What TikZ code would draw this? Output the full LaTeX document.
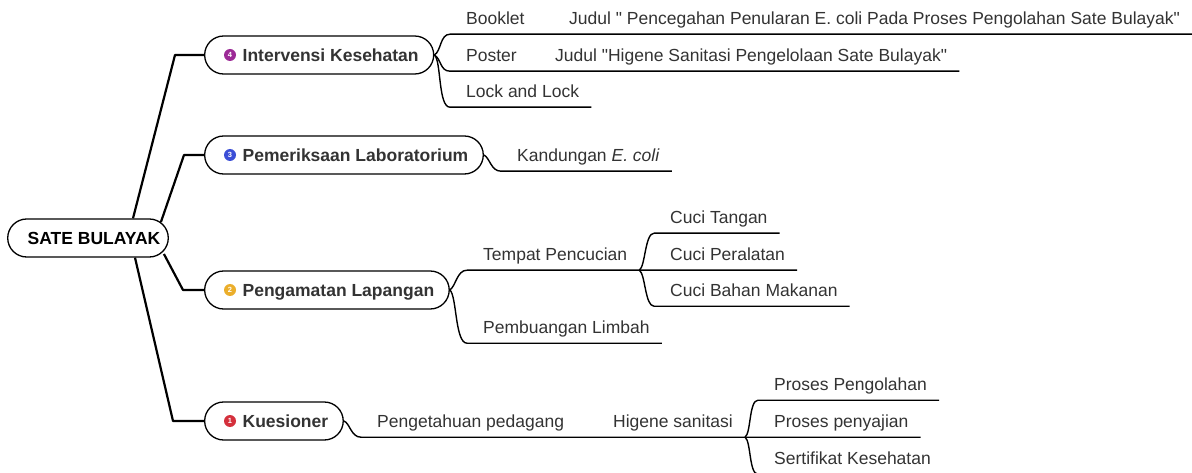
\documentclass[tikz,border=0pt]{standalone}
\usepackage{fontspec}
\setmainfont{Liberation Sans}[Ligatures=TeXOff]
\usetikzlibrary{calc,backgrounds}
\definecolor{txt}{HTML}{333333}
\definecolor{cpurple}{HTML}{9C2A96}
\definecolor{cblue}{HTML}{3B4ED6}
\definecolor{corange}{HTML}{EBAE2B}
\definecolor{cred}{HTML}{D4303C}
\begin{document}
\begin{tikzpicture}[x=1pt,y=-1pt,
  every node/.style={font=\fontsize{17.5}{21}\selectfont},
  pill/.style={draw=black, line width=1.3pt, fill=white, rounded corners=19pt, minimum height=38pt, inner xsep=15pt, inner ysep=0pt, text height=12.5pt, text depth=0pt, anchor=west, text=txt, font=\fontsize{17.5}{21}\selectfont\bfseries},
  leaf/.style={anchor=west, inner xsep=12pt, inner ysep=0pt, minimum height=32pt, text height=12.5pt, text depth=0pt, text=txt},
  badge/.style={circle, inner sep=0pt, minimum size=12pt, text=white, font=\fontsize{7.5}{7.5}\selectfont\bfseries},
  trunk/.style={line width=2.2pt, line join=round},
  branch/.style={line width=1.4pt, line join=round},
]
\useasboundingbox (0,0) rectangle (1192,473);
\clip (0,0) rectangle (1192,473);
% main nodes
\node[pill, anchor=center, minimum width=160pt, inner xsep=8pt, text=black] (root) at (88,238) {\hspace{12pt}SATE BULAYAK};
\node[pill] (iv) at (204,55) {\hspace{23pt}Intervensi Kesehatan};
\node[pill] (pl) at (204,155) {\hspace{23pt}Pemeriksaan Laboratorium};
\node[pill] (pa) at (204,290) {\hspace{23pt}Pengamatan Lapangan};
\node[pill] (ku) at (204,421) {\hspace{23pt}Kuesioner};
\node[badge, fill=cpurple] (b4) at ($(iv.west)+(26,0)$) {4};
\node[badge, fill=cblue] (b3) at ($(pl.west)+(26,0)$) {3};
\node[badge, fill=corange] (b2) at ($(pa.west)+(26,0)$) {2};
\node[badge, fill=cred] (b1) at ($(ku.west)+(26,0)$) {1};
% leaves
\node[leaf] (booklet) at (450,18) {\hspace{4pt}Booklet};
\node[leaf] (judul1) at (553,18) {\hspace{4pt}Judul " Pencegahan Penularan E. coli Pada Proses Pengolahan Sate Bulayak"};
\node[leaf] (poster) at (450,55) {\hspace{4pt}Poster};
\node[leaf] (judul2) at (539,55) {\hspace{4pt}Judul "Higene Sanitasi Pengelolaan Sate Bulayak"};
\node[leaf] (lock) at (450,91) {\hspace{4pt}Lock and Lock};
\node[leaf] (kand) at (501,155) {\hspace{4pt}Kandungan \textit{E. coli}};
\node[leaf] (tempat) at (467,254) {\hspace{4pt}Tempat Pencucian};
\node[leaf] (ctangan) at (654,217) {\hspace{4pt}Cuci Tangan};
\node[leaf] (cperal) at (654,254) {\hspace{4pt}Cuci Peralatan};
\node[leaf] (cbahan) at (654,290) {\hspace{4pt}Cuci Bahan Makanan};
\node[leaf] (limbah) at (467,327) {\hspace{4pt}Pembuangan Limbah};
\node[leaf] (tahu) at (361,421) {\hspace{4pt}Pengetahuan pedagang};
\node[leaf] (higene) at (597,421) {\hspace{4pt}Higene sanitasi};
\node[leaf] (proses1) at (758,384) {\hspace{4pt}Proses Pengolahan};
\node[leaf] (proses2) at (758,421) {\hspace{4pt}Proses penyajian};
\node[leaf] (sert) at (758,458) {\hspace{4pt}Sertifikat Kesehatan};
% connectors
\begin{scope}[on background layer]
\draw[trunk] ($(root.north)+(45,0)$) -- ($(iv.west)+(-29,0)$) -- (iv.west);
\draw[trunk] ($(root.east)+(-8,-16)$) -- ($(pl.west)+(-20,0)$) -- (pl.west);
\draw[trunk] ($(root.east)+(-5,16)$) -- ($(pa.west)+(-21,0)$) -- (pa.west);
\draw[trunk] ($(root.south)+(47,0)$) -- ($(ku.west)+(-31,0)$) -- (ku.west);
\end{scope}
\draw[branch] (iv.east) .. controls +(7,-4) and +(-10,0) .. (booklet.south west) -- (judul1.south east);
\draw[branch] (iv.east) .. controls +(7,4) and +(-10,0) .. (poster.south west) -- (judul2.south east);
\draw[branch] (iv.east) .. controls +(7,5) and +(-12,0) .. (lock.south west) -- (lock.south east);
\draw[branch] (pl.east) .. controls +(6,3) and +(-10,0) .. (kand.south west) -- (kand.south east);
\draw[branch] (pa.east) .. controls +(6,-4) and +(-10,0) .. (tempat.south west) -- (tempat.south east) -- (cperal.south east);
\draw[branch] (pa.east) .. controls +(7,6) and +(-12,0) .. (limbah.south west) -- (limbah.south east);
\draw[branch] (tempat.south east) .. controls +(6,-4) and +(-9,0) .. (ctangan.south west) -- (ctangan.south east);
\draw[branch] (tempat.south east) .. controls +(6,4) and +(-9,0) .. (cbahan.south west) -- (cbahan.south east);
\draw[branch] (ku.east) .. controls +(6,2) and +(-10,0) .. (tahu.south west) -- (higene.south east) -- (proses2.south east);
\draw[branch] (higene.south east) .. controls +(6,-4) and +(-9,0) .. (proses1.south west) -- (proses1.south east);
\draw[branch] (higene.south east) .. controls +(6,4) and +(-9,0) .. (sert.south west) -- (sert.south east);
\end{tikzpicture}
\end{document}
